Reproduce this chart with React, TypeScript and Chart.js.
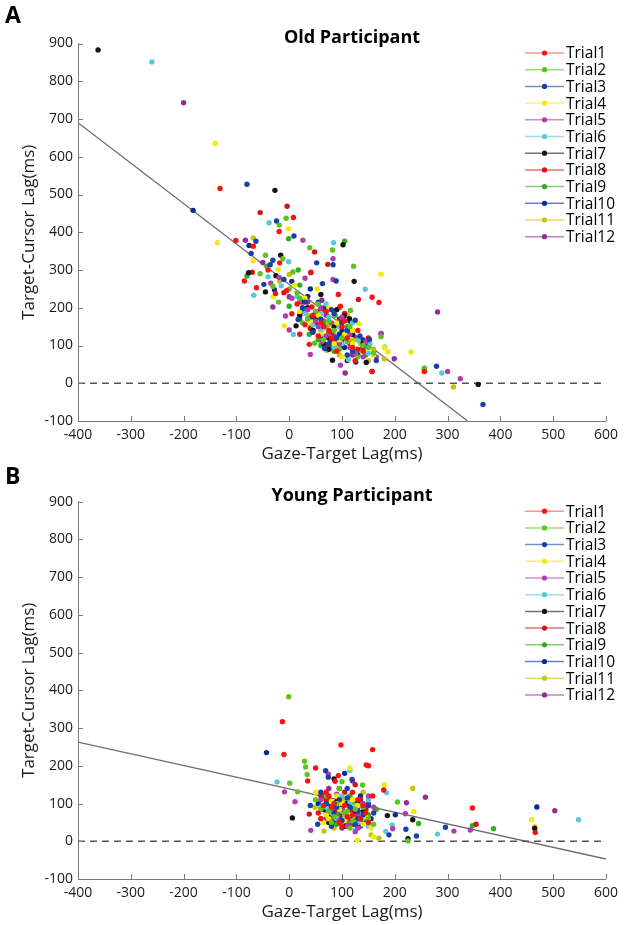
import React, { useEffect, useRef } from "react";
import { Chart, registerables } from "chart.js";
Chart.register(...registerables);

const FONT = "'Open Sans', 'DejaVu Sans', sans-serif";

const trialNames = ["Trial1", "Trial2", "Trial3", "Trial4", "Trial5", "Trial6", "Trial7", "Trial8", "Trial9", "Trial10", "Trial11", "Trial12"];
const trialColors = ["#ff1010", "#5cc41c", "#1a3fa8", "#f5ea00", "#b03cb0", "#5ac8dc", "#151515", "#d01515", "#2fae1e", "#0a2a96", "#c8c400", "#942e94"];
const legendLineColors = ["rgba(255,16,16,0.45)", "rgba(92,196,28,0.6)", "rgba(26,63,168,0.6)", "rgba(245,234,0,0.6)", "rgba(176,60,176,0.6)", "rgba(90,200,220,0.6)", "rgba(21,21,21,0.6)", "rgba(208,21,21,0.6)", "rgba(47,174,30,0.6)", "rgba(10,42,150,0.6)", "rgba(200,196,0,0.6)", "rgba(148,46,148,0.6)"];

const xTickValues = [-400, -300, -200, -100, 0, 100, 200, 300, 400, 500, 600];
const yTickValues = [-100, 0, 100, 200, 300, 400, 500, 600, 700, 800, 900];

// ---------- Old participant (panel A) ----------
const oldT1 = [[-131, 516], [8, 439], [-19, 402], [-101, 378], [-68, 363], [-18, 319], [-85, 271], [-62, 253], [-26, 238], [41, 294], [93, 235], [43, 202], [5, 184], [97, 204], [157, 228], [170, 214], [38, 103], [157, 31], [256, 31], [60, 160], [75, 140], [110, 120], [20, 130], [130, 140], [90, 85],
  [45, 180], [65, 150], [105, 165], [120, 95], [80, 120], [15, 210], [55, 125], [140, 85], [100, 150], [30, 155], [70, 190], [125, 60], [-40, 300], [-5, 245]];
const oldT2 = [[-6, 437], [-19, 419], [-45, 339], [-12, 330], [7, 295], [39, 359], [82, 353], [122, 310], [174, 123], [48, 106], [256, 37], [-31, 257], [116, 193], [25, 160], [70, 150], [100, 120], [140, 100], [55, 210], [15, 240], [160, 80],
  [50, 190], [85, 140], [110, 110], [35, 170], [95, 90], [65, 115], [130, 70], [20, 225], [75, 165], [115, 150], [150, 95], [0, 250], [-55, 290], [-20, 215]];
const oldT3 = [[-80, 527], [-24, 430], [9, 390], [-63, 376], [-72, 344], [-31, 326], [-36, 314], [41, 293], [83, 314], [52, 319], [63, 264], [89, 271], [17, 169], [43, 176], [125, 167], [134, 125], [152, 116], [67, 92], [279, 45], [367, -56], [110, 140], [80, 195], [30, 215],
  [60, 170], [90, 120], [100, 160], [45, 135], [120, 85], [75, 105], [25, 200], [140, 95], [110, 75], [55, 215], [85, 185], [165, 60], [-10, 275], [-48, 262]];
const oldT4 = [[-140, 635], [-1, 409], [-136, 372], [-68, 324], [-21, 301], [53, 250], [174, 289], [131, 158], [187, 83], [231, 83], [-9, 152], [180, 95], [90, 160], [60, 130], [120, 105], [20, 190], [100, 70],
  [40, 165], [70, 145], [105, 130], [85, 105], [55, 180], [120, 140], [30, 225], [95, 115], [145, 90], [10, 260], [75, 200], [160, 75], [-30, 230]];
const oldT5 = [[26, 379], [83, 330], [-19, 280], [30, 278], [83, 275], [-7, 178], [0, 141], [62, 110], [97, 48], [40, 76], [174, 131], [300, 31], [324, 12], [50, 165], [115, 95], [140, 70],
  [55, 150], [80, 160], [95, 105], [115, 130], [35, 195], [70, 125], [125, 80], [60, 200], [100, 175], [145, 110], [20, 215], [165, 70], [-35, 265], [5, 225]];
const oldT6 = [[-260, 851], [-38, 425], [84, 372], [-40, 282], [-67, 233], [-1, 322], [144, 249], [8, 129], [112, 63], [181, 96], [289, 27], [153, 105], [60, 185], [95, 150],
  [45, 155], [75, 175], [110, 125], [85, 95], [30, 185], [130, 115], [60, 140], [100, 105], [15, 230], [120, 160], [150, 80], [70, 210], [-15, 258]];
const oldT7 = [[-362, 883], [-27, 511], [102, 367], [-16, 339], [-77, 293], [-45, 242], [123, 270], [27, 218], [13, 152], [104, 178], [114, 171], [82, 61], [146, 55], [358, -3], [45, 140], [75, 120],
  [50, 170], [85, 150], [100, 115], [65, 105], [120, 130], [35, 200], [90, 195], [140, 105], [75, 90], [110, 60], [20, 180], [60, 235], [-25, 285]];
const oldT8 = [[-4, 469], [-55, 452], [48, 348], [73, 315], [-70, 294], [131, 222], [157, 31], [85, 110], [35, 170],
  [60, 190], [95, 165], [115, 105], [40, 145], [80, 135], [130, 90], [25, 215], [70, 100], [105, 185], [150, 120], [-10, 240]];
const oldT9 = [[105, 376], [-1, 383], [17, 300], [-80, 284], [0, 204], [38, 130], [87, 180], [125, 80], [60, 100], [256, 40],
  [45, 175], [75, 135], [110, 150], [95, 200], [55, 115], [130, 115], [20, 260], [85, 85], [145, 75], [65, 165], [-42, 310]];
const oldT10 = [[-182, 458], [-76, 365], [126, 56], [67, 200], [95, 130], [105, 95], [35, 230], [5, 270], [140, 115],
  [50, 160], [80, 110], [115, 165], [60, 125], [95, 170], [130, 75], [25, 190], [100, 140], [150, 100], [40, 250], [-28, 248]];
const oldT11 = [[-68, 385], [0, 288], [71, 87], [132, 87], [180, 65], [311, -10], [40, 150], [110, 180], [150, 60], [85, 140],
  [55, 175], [90, 100], [120, 115], [75, 155], [35, 180], [105, 125], [135, 105], [65, 195], [95, 75], [160, 90], [-18, 270]];
const oldT12 = [[-200, 743], [-83, 379], [-31, 202], [0, 229], [106, 27], [199, 65], [174, 132], [281, 189], [62, 220], [20, 170], [70, 180], [120, 75],
  [45, 140], [85, 125], [100, 100], [65, 155], [125, 120], [35, 215], [110, 140], [80, 95], [140, 95], [55, 190], [-50, 320]];
const oldFitLine = [[-400, 690], [338, -100]];

// ---------- Young participant (panel B) ----------
const youngT1 = [[-13, 317], [-10, 230], [98, 255], [158, 243], [146, 202], [150, 200], [50, 194], [35, 160], [93, 174], [87, 159], [179, 136], [158, 120], [347, 88], [466, 23], [85, 100], [120, 70], [60, 60], [100, 40], [140, 95], [70, 130],
  [80, 90], [110, 65], [130, 110], [95, 50], [65, 95], [145, 75], [120, 130], [75, 120], [150, 50], [105, 95], [55, 75], [135, 60]];
const youngT2 = [[-1, 383], [29, 212], [31, 197], [34, 177], [1, 154], [16, 131], [100, 158], [139, 149], [205, 104], [80, 50], [110, 80], [150, 60], [225, 1], [60, 85],
  [90, 100], [120, 55], [70, 120], [105, 75], [140, 90], [85, 65], [160, 45], [50, 110], [125, 85], [95, 140], [115, 35], [75, 80]];
const youngT3 = [[69, 187], [74, 170], [119, 164], [54, 45], [189, 17], [241, 14], [221, 32], [296, 37], [90, 90], [130, 60], [40, 95], [110, 115], [160, 75],
  [85, 75], [115, 90], [100, 55], [70, 100], [140, 70], [125, 45], [95, 110], [60, 130], [150, 95], [110, 140], [80, 40], [130, 80]];
const youngT4 = [[115, 194], [180, 150], [129, 3], [160, 12], [236, 79], [459, 57], [100, 100], [70, 70], [140, 45], [50, 130],
  [95, 85], [115, 70], [80, 105], [130, 95], [105, 55], [65, 50], [145, 65], [120, 110], [90, 120], [155, 35], [75, 60]];
const youngT5 = [[74, 178], [-9, 131], [11, 105], [41, 29], [220, 73], [196, 33], [312, 27], [343, 30], [110, 60], [130, 35], [90, 125], [160, 90],
  [100, 85], [120, 50], [85, 90], [70, 60], [140, 100], [110, 40], [95, 55], [130, 70], [150, 120], [60, 110], [125, 25]];
const youngT6 = [[-23, 157], [115, 188], [184, 129], [183, 26], [195, 43], [281, 19], [548, 57], [100, 80], [60, 90], [150, 110], [125, 30],
  [105, 70], [90, 60], [125, 95], [80, 75], [140, 60], [115, 105], [70, 90], [150, 40], [100, 120], [130, 50]];
const youngT7 = [[6, 62], [225, 7], [234, 57], [186, 68], [465, 34], [95, 140], [110, 100], [75, 50], [140, 80], [85, 165],
  [100, 90], [125, 75], [80, 70], [115, 60], [90, 105], [140, 55], [65, 85], [130, 100], [105, 40]];
const youngT8 = [[38, 72], [354, 45], [125, 150], [70, 110], [105, 130],
  [90, 85], [115, 80], [80, 60], [135, 110], [100, 70], [60, 120], [145, 85], [120, 45]];
const youngT9 = [[245, 47], [387, 33], [347, 41], [60, 60], [95, 70], [125, 100], [165, 85],
  [85, 95], [110, 55], [130, 75], [75, 110], [100, 85], [150, 70], [115, 120], [90, 45]];
const youngT10 = [[-43, 235], [201, 70], [469, 91], [105, 180], [80, 80], [135, 120], [55, 100],
  [95, 65], [120, 85], [75, 95], [110, 75], [140, 95], [85, 50], [130, 45], [65, 120], [155, 60]];
const youngT11 = [[49, 90], [66, 27], [155, 17], [170, 8], [234, 140], [465, 38], [100, 45], [140, 130],
  [90, 70], [115, 95], [130, 55], [75, 85], [105, 110], [145, 80], [85, 35], [120, 65]];
const youngT12 = [[258, 117], [222, 102], [503, 81], [120, 160], [90, 65], [150, 55], [75, 140], [130, 90],
  [95, 75], [110, 45], [125, 60], [80, 100], [140, 65], [100, 35], [115, 80], [70, 75], [150, 100], [135, 40]];
const youngFitLine = [[-400, 263], [600, -47]];

const oldTrials = [oldT1, oldT2, oldT3, oldT4, oldT5, oldT6, oldT7, oldT8, oldT9, oldT10, oldT11, oldT12];
const youngTrials = [youngT1, youngT2, youngT3, youngT4, youngT5, youngT6, youngT7, youngT8, youngT9, youngT10, youngT11, youngT12];

const toXY = (arr: number[][]) => arr.map(([x, y]) => ({ x, y }));

const decoPlugin = {
  id: "deco",
  afterDraw(chart: any, _args: any, opts: any) {
    const { ctx, chartArea } = chart;
    const xs = chart.scales.x;
    const ys = chart.scales.y;
    ctx.save();
    // inward tick marks
    ctx.strokeStyle = "#7a7a7a";
    ctx.lineWidth = 1;
    ctx.beginPath();
    xs.ticks.forEach((t: any) => {
      const px = Math.round(xs.getPixelForValue(t.value)) + 0.5;
      ctx.moveTo(px, chartArea.bottom);
      ctx.lineTo(px, chartArea.bottom - 5);
    });
    ys.ticks.forEach((t: any) => {
      const py = Math.round(ys.getPixelForValue(t.value)) + 0.5;
      ctx.moveTo(chartArea.left, py);
      ctx.lineTo(chartArea.left + 5, py);
    });
    ctx.stroke();

    // panel letter
    ctx.fillStyle = "#000";
    ctx.font = `bold 23px ${FONT}`;
    ctx.textAlign = "left";
    ctx.textBaseline = "middle";
    ctx.fillText(opts.letter, 5, opts.letterY);

    // title
    ctx.font = `bold 18px ${FONT}`;
    ctx.textAlign = "center";
    ctx.fillText(opts.title, opts.titleX, opts.titleY);

    // legend
    ctx.font = `15.5px ${FONT}`;
    ctx.textAlign = "left";
    const lx0 = chartArea.right - 81;
    const lx1 = chartArea.right - 42;
    const lt = chartArea.right - 40;
    trialNames.forEach((name, i) => {
      const y = chartArea.top + 9.5 + i * 16.7;
      ctx.strokeStyle = legendLineColors[i];
      ctx.lineWidth = 1.5;
      ctx.beginPath();
      ctx.moveTo(lx0, y);
      ctx.lineTo(lx1, y);
      ctx.stroke();
      ctx.fillStyle = trialColors[i];
      ctx.beginPath();
      ctx.arc((lx0 + lx1) / 2, y, 2.6, 0, Math.PI * 2);
      ctx.fill();
      ctx.fillStyle = "#000";
      ctx.fillText(name, lt, y + 1);
    });
    ctx.restore();
  },
};

function makeConfig(trials: number[][][], fit: number[][], p: any) {
  const datasets: any[] = trials.map((arr, i) => ({
    label: trialNames[i],
    data: toXY(arr),
    backgroundColor: trialColors[i],
    borderColor: trialColors[i],
    pointRadius: 2.7,
    pointBorderWidth: 0,
    showLine: false,
  }));
  datasets.push({
    label: "zero",
    data: [{ x: xTickValues[0], y: 0 }, { x: xTickValues[xTickValues.length - 1], y: 0 }],
    borderColor: "#555555",
    borderWidth: 1.3,
    borderDash: [7, 5],
    pointRadius: 0,
    showLine: true,
  });
  datasets.push({
    label: "fit",
    data: toXY(fit),
    borderColor: "#6e6e6e",
    borderWidth: 1.3,
    pointRadius: 0,
    showLine: true,
  });
  return {
    type: "scatter",
    data: { datasets },
    options: {
      animation: false,
      responsive: false,
      layout: { padding: { top: p.top, right: 16, bottom: 0, left: 0 } },
      plugins: {
        legend: { display: false },
        tooltip: { enabled: false },
        deco: p.deco,
      },
      scales: {
        x: {
          type: "linear",
          min: xTickValues[0],
          max: xTickValues[xTickValues.length - 1],
          afterBuildTicks: (s: any) => { s.ticks = xTickValues.map((v) => ({ value: v })); },
          grid: { display: false, drawTicks: false },
          border: { display: true, color: "#7a7a7a", width: 1 },
          ticks: { color: "#1a1a1a", font: { family: FONT, size: 14 }, padding: 6, maxRotation: 0 },
          title: { display: true, text: "Gaze-Target Lag(ms)", color: "#1a1a1a", font: { family: FONT, size: 17 }, padding: { top: 0, bottom: p.xTitlePad } },
          afterFit: (s: any) => { s.height = p.xHeight; },
        },
        y: {
          type: "linear",
          min: yTickValues[0],
          max: yTickValues[yTickValues.length - 1],
          afterBuildTicks: (s: any) => { s.ticks = yTickValues.map((v) => ({ value: v })); },
          grid: { display: false, drawTicks: false },
          border: { display: true, color: "#7a7a7a", width: 1 },
          ticks: { color: "#1a1a1a", font: { family: FONT, size: 14 }, padding: 5 },
          title: { display: true, text: "Target-Cursor Lag(ms)", color: "#1a1a1a", font: { family: FONT, size: 17 }, padding: { top: 19, bottom: 0 } },
          afterFit: (s: any) => { s.width = 78; },
        },
      },
    },
    plugins: [decoPlugin],
  };
}

function Panel(props: { trials: number[][][]; fit: number[][]; height: number; p: any }) {
  const ref = useRef<HTMLCanvasElement>(null);
  useEffect(() => {
    if (!ref.current) return;
    const chart = new Chart(ref.current, makeConfig(props.trials, props.fit, props.p) as any);
    return () => chart.destroy();
  }, []);
  return <canvas ref={ref} width={624} height={props.height} style={{ display: "block", width: 624, height: props.height }} />;
}

export default function App() {
  return (
    <div style={{ position: "absolute", left: 0, top: 0, width: 624, height: 925, background: "#fff" }}>
      <Panel
        trials={oldTrials}
        fit={oldFitLine}
        height={465}
        p={{ top: 43.5, xHeight: 44, xTitlePad: 0.5, deco: { letter: "A", letterY: 16, title: "Old Participant", titleX: 352, titleY: 37.5 } }}
      />
      <Panel
        trials={youngTrials}
        fit={youngFitLine}
        height={460}
        p={{ top: 36.7, xHeight: 46, xTitlePad: 2.5, deco: { letter: "B", letterY: 12, title: "Young Participant", titleX: 352, titleY: 31 } }}
      />
    </div>
  );
}
